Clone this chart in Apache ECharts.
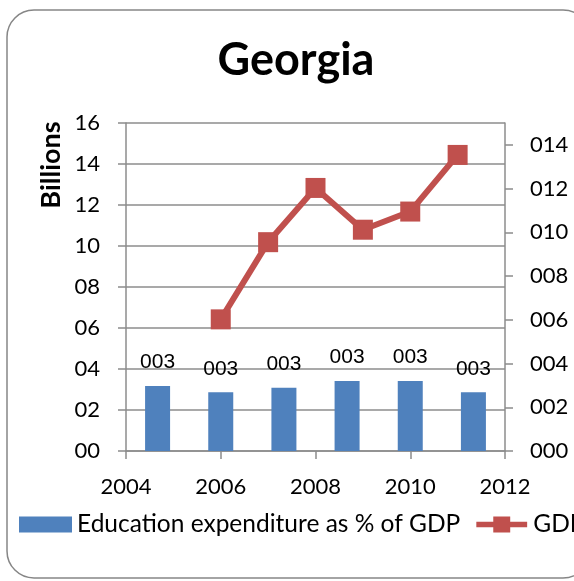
<!DOCTYPE html>
<html>
<head>
<meta charset="utf-8">
<script src="https://cdn.jsdelivr.net/npm/echarts@6/dist/echarts.min.js"></script>
<style>
html,body{margin:0;padding:0;background:#fff;overflow:hidden;}
#chart{width:574px;height:581px;}
</style>
</head>
<body>
<div id="chart"></div>
<script>
// Data
const barCategories = ['2006', '2007', '2008', '2009', '2010', '2011'];
const eduValues = [3.17, 2.86, 3.09, 3.41, 3.41, 2.86];
const gdpYears = [2006, 2007, 2008, 2009, 2010, 2011];
const gdpValues = [6.02, 9.55, 12.03, 10.12, 10.95, 13.54];
const leftTicks = [0, 2, 4, 6, 8, 10, 12, 14, 16];
const rightTicks = [0, 2, 4, 6, 8, 10, 12, 14];
const xTicks = [2004, 2006, 2008, 2010, 2012];

const pad = (v, n) => String(Math.round(v)).padStart(n, '0');
const gridColor = '#8c8c8c';
const labelFont = 'Lato';
const lineMarkerIcon = 'path://M0,5.5 H18 V0 H36 V5.5 H54 V11.5 H36 V17 H18 V11.5 H0 Z';

const chart = echarts.init(document.getElementById('chart'), null, {renderer: 'canvas'});
chart.setOption({
  backgroundColor: '#ffffff',
  animation: false,
  title: {
    text: 'Georgia',
    left: 291,
    top: 33,
    textAlign: 'center',
    textStyle: {fontFamily: labelFont, fontWeight: 'bold', fontSize: 45, color: '#000'}
  },
  graphic: [
    {
      type: 'rect',
      shape: {x: 7, y: 10, width: 583, height: 568, r: 27},
      style: {fill: 'none', stroke: '#868686', lineWidth: 1.5},
      silent: true, z: -1
    },
    {
      type: 'text',
      x: 51, y: 165, rotation: Math.PI / 2,
      style: {text: 'Billions', fontFamily: labelFont, fontWeight: 'bold', fontSize: 27,
        fill: '#000', align: 'center', verticalAlign: 'middle'}
    }
  ],
  legend: {
    left: 14,
    top: 507,
    width: 1200,
    itemWidth: 53,
    itemHeight: 16,
    itemGap: 16,
    textStyle: {fontFamily: labelFont, fontSize: 24.5, color: '#000'},
    data: [
      {name: 'Education expenditure as % of GDP', icon: 'rect'},
      {name: 'GDP', icon: lineMarkerIcon}
    ]
  },
  grid: {left: 126, right: 69, top: 123, bottom: 130, containLabel: false},
  xAxis: [
    {
      type: 'value', min: xTicks[0], max: xTicks[xTicks.length - 1], interval: 2,
      position: 'bottom',
      axisLine: {show: true, lineStyle: {color: gridColor, width: 1.5}},
      axisTick: {show: true, length: 8, lineStyle: {color: gridColor, width: 1.5}},
      axisLabel: {margin: 25, fontFamily: labelFont, fontSize: 22, color: '#000',
        formatter: v => String(v)},
      splitLine: {show: false}
    },
    {
      type: 'category', data: barCategories, position: 'bottom', show: false,
      boundaryGap: true
    }
  ],
  yAxis: [
    {
      type: 'value', min: leftTicks[0], max: leftTicks[leftTicks.length - 1], interval: 2,
      position: 'left',
      axisLine: {show: true, lineStyle: {color: gridColor, width: 1.5}},
      axisTick: {show: true, length: 8, lineStyle: {color: gridColor, width: 1.5}},
      axisLabel: {margin: 26, fontFamily: labelFont, fontSize: 22, color: '#000',
        formatter: v => pad(v, 2)},
      splitLine: {show: true, lineStyle: {color: gridColor, width: 1.5}}
    },
    {
      type: 'value', min: 0, max: 15, interval: 2,
      position: 'right',
      axisLine: {show: true, lineStyle: {color: gridColor, width: 1.5}},
      axisTick: {show: true, length: 8, customValues: rightTicks, lineStyle: {color: gridColor, width: 1.5}},
      axisLabel: {margin: 25, fontFamily: labelFont, fontSize: 22, color: '#000',
        customValues: rightTicks,
        formatter: v => pad(v, 3)},
      splitLine: {show: false}
    }
  ],
  series: [
    {
      name: 'Education expenditure as % of GDP',
      type: 'bar',
      xAxisIndex: 1, yAxisIndex: 0,
      data: eduValues,
      barWidth: 25,
      itemStyle: {color: '#4F81BD'},
      label: {show: true, position: 'top', distance: 13,
        fontFamily: 'Liberation Sans', fontSize: 21, color: '#000',
        formatter: p => pad(p.value, 3)},
      z: 2
    },
    {
      name: 'GDP',
      type: 'line',
      xAxisIndex: 0, yAxisIndex: 1,
      data: gdpYears.map((y, i) => [y, gdpValues[i]]),
      symbol: 'rect',
      symbolSize: 20,
      lineStyle: {color: '#C0504D', width: 6},
      itemStyle: {color: '#C0504D'},
      z: 3
    }
  ]
});
</script>
</body>
</html>
